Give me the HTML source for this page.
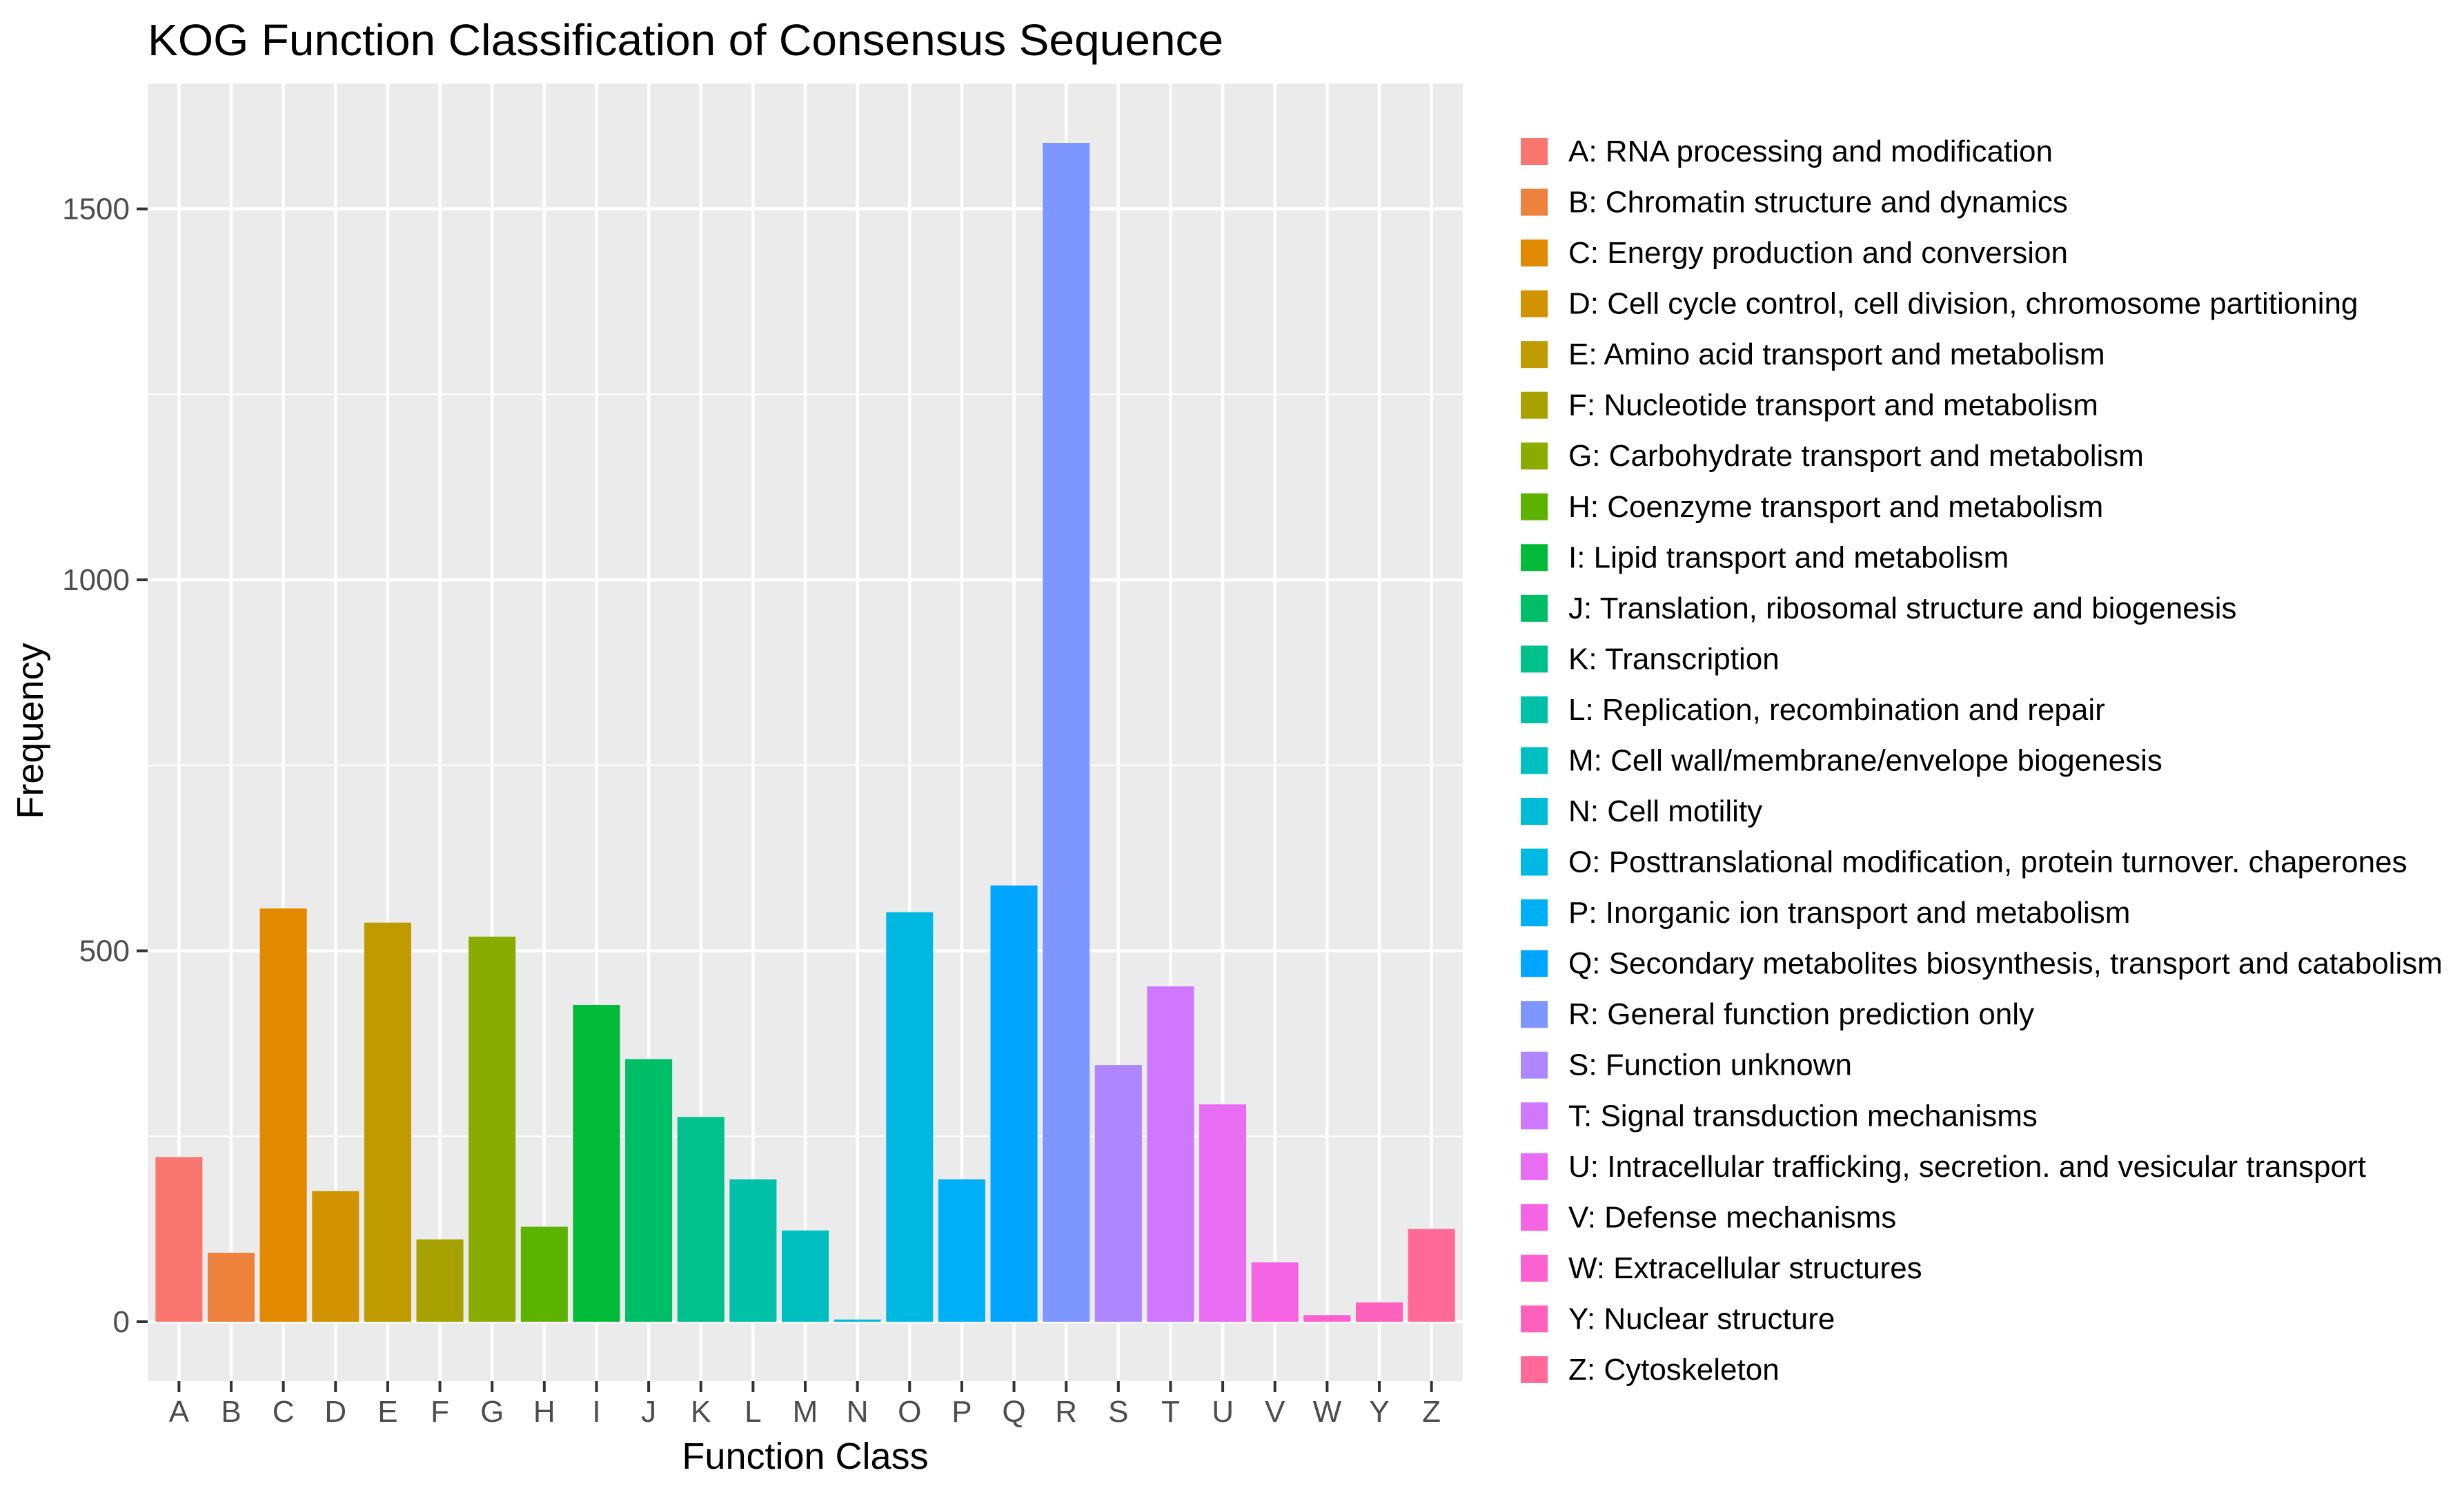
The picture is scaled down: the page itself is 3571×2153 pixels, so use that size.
<!DOCTYPE html>
<html><head><meta charset="utf-8"><style>
html,body{margin:0;padding:0;background:#fff;}
svg{display:block;font-family:"Liberation Sans",sans-serif;}
</style></head><body>
<svg id="chart" width="3571" height="2153" viewBox="0 0 3571 2153" xmlns="http://www.w3.org/2000/svg">
<rect width="3571" height="2153" fill="#fff"/>
<text x="214" y="80" font-size="64" fill="#000" textLength="1559" lengthAdjust="spacingAndGlyphs">KOG Function Classification of Consensus Sequence</text>
<rect x="214" y="121" width="1906" height="1880" fill="#EBEBEB"/>
<g id="grid"></g>
<g id="bars"></g>
<g id="axes"></g>
<text x="1167" y="2128" font-size="54" text-anchor="middle" fill="#000">Function Class</text>
<text transform="translate(62,1059) rotate(-90)" font-size="54" text-anchor="middle" fill="#000">Frequency</text>
<g id="legend"></g>
</svg>
<script>
const categories = ["A","B","C","D","E","F","G","H","I","J","K","L","M","N","O","P","Q","R","S","T","U","V","W","Y","Z"];
const frequencies = [222,93,557,176,538,111,519,128,427,354,276,192,123,3,552,192,588,1589,346,452,293,80,9,26,125];
const descriptions = ["RNA processing and modification","Chromatin structure and dynamics","Energy production and conversion","Cell cycle control, cell division, chromosome partitioning","Amino acid transport and metabolism","Nucleotide transport and metabolism","Carbohydrate transport and metabolism","Coenzyme transport and metabolism","Lipid transport and metabolism","Translation, ribosomal structure and biogenesis","Transcription","Replication, recombination and repair","Cell wall/membrane/envelope biogenesis","Cell motility","Posttranslational modification, protein turnover. chaperones","Inorganic ion transport and metabolism","Secondary metabolites biosynthesis, transport and catabolism","General function prediction only","Function unknown","Signal transduction mechanisms","Intracellular trafficking, secretion. and vesicular transport","Defense mechanisms","Extracellular structures","Nuclear structure","Cytoskeleton"];
const colors = ["#F8766D","#EC823C","#E18A00","#D29300","#BF9B00","#A8A200","#8AAB00","#5BB300","#00BA38","#00BE67","#00C08B","#00C1A7","#00BFC0","#00BCD6","#00B9E3","#00B0F6","#00A5FF","#7E96FF","#AE87FF","#CF78FF","#E86DF2","#F564E3","#FD61D1","#FF62BC","#FF6A98"];
const yTicks = [0,500,1000,1500];
const yMinor = [250,750,1250];

const NS="http://www.w3.org/2000/svg";
const pL=214,pR=2120,pT=121,pB=2001;
const yMin=-80,yMax=1669;
function yS(v){return pB-(v-yMin)/(yMax-yMin)*(pB-pT);}
const step=(pR-pL)/(categories.length-1+1.2);
function xS(i){return pL+step*(0.6+i);}
const bw=step*0.9;
function mk(tag,attrs,parent){const e=document.createElementNS(NS,tag);for(const k in attrs)e.setAttribute(k,attrs[k]);parent.appendChild(e);return e;}
const grid=document.getElementById('grid'),bars=document.getElementById('bars'),axes=document.getElementById('axes'),legend=document.getElementById('legend');
yMinor.forEach(v=>{const l=mk('line',{x1:pL,x2:pR,y1:yS(v),y2:yS(v),stroke:'#fff','stroke-width':2},grid);

});
yTicks.forEach(v=>{const l=mk('line',{x1:pL,x2:pR,y1:yS(v),y2:yS(v),stroke:'#fff','stroke-width':4.5},grid);


const t=mk('line',{x1:198,x2:pL,y1:yS(v),y2:yS(v),stroke:'#333','stroke-width':4},axes);


const tx=mk('text',{x:188,y:yS(v)+15,'font-size':44,'text-anchor':'end',fill:'#4D4D4D'},axes);tx.textContent=v;

});
categories.forEach((c,i)=>{const x=xS(i);
const g=mk('line',{x1:x,x2:x,y1:pT,y2:pB,stroke:'#fff','stroke-width':4.5},grid);


const b=mk('rect',{x:x-bw/2,y:yS(frequencies[i]),width:bw,height:yS(0)-yS(frequencies[i]),fill:colors[i]},bars);


const t=mk('line',{x1:x,x2:x,y1:pB,y2:pB+16,stroke:'#333','stroke-width':4},axes);


const tx=mk('text',{x:x,y:2060,'font-size':44,'text-anchor':'middle',fill:'#4D4D4D'},axes);tx.textContent=c;


const ly=219+i*73.54;
const sq=mk('rect',{x:2204,y:ly-19,width:39,height:39,fill:colors[i]},legend);


const lt=mk('text',{x:2273,y:ly+15,'font-size':44,fill:'#000'},legend);lt.textContent=c+': '+descriptions[i];


});
</script>
</body></html>
